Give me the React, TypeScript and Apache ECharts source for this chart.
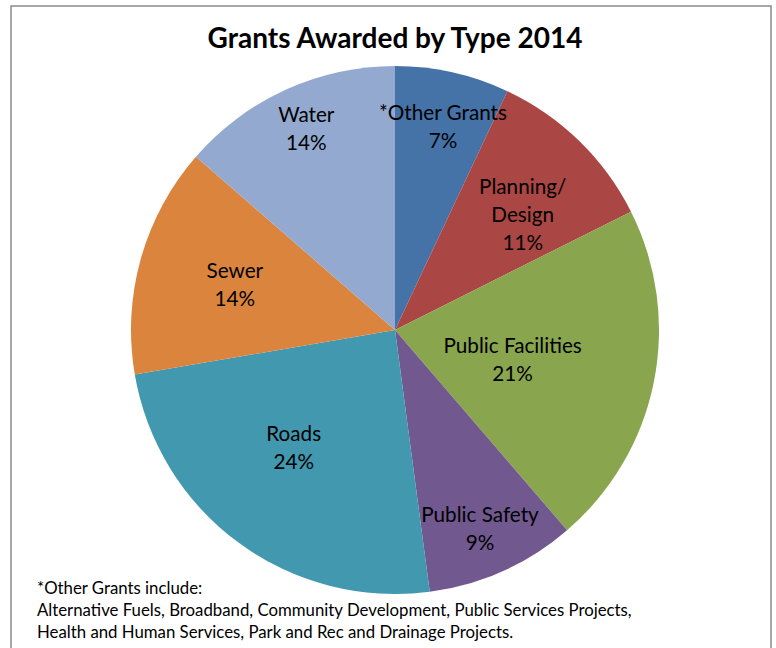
import React, { useEffect, useRef } from "react";
import * as echarts from "echarts";

const TITLE = "Grants Awarded by Type 2014";
const categories = [
  "*Other Grants",
  "Planning/ Design",
  "Public Facilities",
  "Public Safety",
  "Roads",
  "Sewer",
  "Water",
];
const values = [7.0, 10.6, 21.1, 9.2, 24.4, 14.1, 13.6];
const colors = ["#4572A7", "#AA4643", "#89A54E", "#71588F", "#4198AF", "#DB843D", "#93A9CF"];
// label placement (style): distance from centre as fraction of radius, and angular nudge in degrees
const labelRadius = [0.79, 0.65, 0.46, 0.82, 0.59, 0.63, 0.83];
const labelAngleShift = [0.7, 3.8, 3.1, 1.0, 4.2, 0, 0.6];
const footnoteLines = [
  "*Other Grants include:",
  "Alternative Fuels, Broadband, Community Development, Public Services Projects,",
  "Health and Human Services, Park and Rec and Drainage Projects.",
];

const CX = 395;
const CY = 330;
const R = 264;
const FONT = "Lato, 'Open Sans', sans-serif";

export default function App() {
  const ref = useRef<HTMLDivElement>(null);
  useEffect(() => {
    if (!ref.current) return;
    const chart = echarts.init(ref.current, null, { renderer: "svg" });
    const total = values.reduce((a, b) => a + b, 0);
    const midAngles: number[] = [];
    let cum = 0;
    values.forEach((v) => {
      midAngles.push(((cum + v / 2) / total) * Math.PI * 2);
      cum += v;
    });
    chart.setOption({
      animation: false,
      backgroundColor: "#ffffff",
      graphic: [
        {
          type: "rect",
          shape: { x: 11, y: 6, width: 760, height: 700 },
          style: { fill: "none", stroke: "#8a8a8a", lineWidth: 1.5 },
          silent: true,
        },
        {
          type: "text",
          x: 395,
          y: 37,
          style: {
            text: TITLE,
            fontFamily: FONT,
            fontWeight: "bold",
            fontSize: 28,
            fill: "#000000",
            align: "center",
            verticalAlign: "middle",
          },
        },
        {
          type: "text",
          x: 37,
          y: 576,
          style: {
            text: footnoteLines.join("\n"),
            fontFamily: FONT,
            fontSize: 16.8,
            lineHeight: 22,
            fill: "#000000",
            align: "left",
            verticalAlign: "top",
          },
        },
      ],
      series: [
        {
          type: "pie",
          center: [CX, CY],
          radius: [0, R],
          startAngle: 90,
          clockwise: true,
          avoidLabelOverlap: false,
          itemStyle: { borderWidth: 0 },
          emphasis: { disabled: true },
          label: {
            show: true,
            position: "inside",
            fontFamily: FONT,
            fontSize: 20.7,
            lineHeight: 28,
            color: "#000000",
            align: "center",
            formatter: (p: any) =>
              `${String(p.name).replace("/ ", "/\n")}\n${Math.round(p.percent)}%`,
          },
          labelLine: { show: false },
          labelLayout: (p: any) => {
            const i = p.dataIndex;
            const a = midAngles[i] + (labelAngleShift[i] * Math.PI) / 180;
            const k = labelRadius[i];
            return {
              x: CX + k * R * Math.sin(a),
              y: CY - k * R * Math.cos(a) - 1.5,
            };
          },
          data: categories.map((name, i) => ({
            name,
            value: values[i],
            itemStyle: { color: colors[i] },
          })),
        },
      ],
    });
    return () => chart.dispose();
  }, []);
  return (
    <div
      ref={ref}
      style={{ position: "absolute", left: 0, top: 0, width: 776, height: 648 }}
    />
  );
}
